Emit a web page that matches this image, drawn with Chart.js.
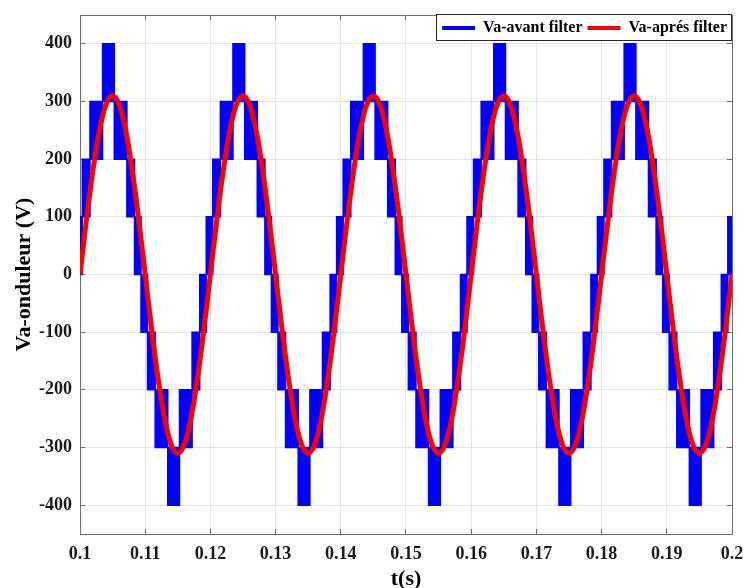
<!DOCTYPE html>
<html><head><meta charset="utf-8">
<script src="https://cdn.jsdelivr.net/npm/chart.js@4/dist/chart.umd.min.js"></script>
<style>html,body{margin:0;padding:0;background:#fff;}</style>
</head><body>
<canvas id="c" width="743" height="588"></canvas>
<script>
// ---- tick values and labels ----
const xTickValues = [0.1,0.11,0.12,0.13,0.14,0.15,0.16,0.17,0.18,0.19,0.2];
const xTickLabels = ['0.1','0.11','0.12','0.13','0.14','0.15','0.16','0.17','0.18','0.19','0.2'];
const yTickValues = [-400,-300,-200,-100,0,100,200,300,400];
const yTickLabels = ['-400','-300','-200','-100','0','100','200','300','400'];

// ---- Va-avant filter: multilevel PWM, switching band (lower level) starting at each time ----
const LEVEL_STEP = 100;
const blueTimes = [
 0.1000,0.10036,0.10153,0.10346,0.10526,0.10719,0.10836,0.10936,0.11036,0.11153,0.11346,0.11526,0.11719,0.11836,0.11936,
 0.12036,0.12153,0.12346,0.12526,0.12719,0.12836,0.12936,0.13036,0.13153,0.13346,0.13526,0.13719,0.13836,0.13936,
 0.14036,0.14153,0.14346,0.14526,0.14719,0.14836,0.14936,0.15036,0.15153,0.15346,0.15526,0.15719,0.15836,0.15936,
 0.16036,0.16153,0.16346,0.16526,0.16719,0.16836,0.16936,0.17036,0.17153,0.17346,0.17526,0.17719,0.17836,0.17936,
 0.18036,0.18153,0.18346,0.18526,0.18719,0.18836,0.18936,0.19036,0.19153,0.19346,0.19526,0.19719,0.19836,0.19936
];
const blueLow = [
 0,100,200,300,200,100,0,-100,-200,-300,-400,-300,-200,-100,0,
 100,200,300,200,100,0,-100,-200,-300,-400,-300,-200,-100,0,
 100,200,300,200,100,0,-100,-200,-300,-400,-300,-200,-100,0,
 100,200,300,200,100,0,-100,-200,-300,-400,-300,-200,-100,0,
 100,200,300,200,100,0,-100,-200,-300,-400,-300,-200,-100,0
];
const blueEnd = 0.2;

// ---- Va-apres filter: filtered sine ----
const redTimes = [
 0.100,0.101,0.102,0.103,0.104,0.105,0.106,0.107,0.108,0.109,0.110,0.111,0.112,0.113,0.114,0.115,0.116,0.117,0.118,0.119,
 0.120,0.121,0.122,0.123,0.124,0.125,0.126,0.127,0.128,0.129,0.130,0.131,0.132,0.133,0.134,0.135,0.136,0.137,0.138,0.139,
 0.140,0.141,0.142,0.143,0.144,0.145,0.146,0.147,0.148,0.149,0.150,0.151,0.152,0.153,0.154,0.155,0.156,0.157,0.158,0.159,
 0.160,0.161,0.162,0.163,0.164,0.165,0.166,0.167,0.168,0.169,0.170,0.171,0.172,0.173,0.174,0.175,0.176,0.177,0.178,0.179,
 0.180,0.181,0.182,0.183,0.184,0.185,0.186,0.187,0.188,0.189,0.190,0.191,0.192,0.193,0.194,0.195,0.196,0.197,0.198,0.199,
 0.200
];
const redValues = [
 0,96,182,251,295,310,295,251,182,96,0,-96,-182,-251,-295,-310,-295,-251,-182,-96,
 0,96,182,251,295,310,295,251,182,96,0,-96,-182,-251,-295,-310,-295,-251,-182,-96,
 0,96,182,251,295,310,295,251,182,96,0,-96,-182,-251,-295,-310,-295,-251,-182,-96,
 0,96,182,251,295,310,295,251,182,96,0,-96,-182,-251,-295,-310,-295,-251,-182,-96,
 0,96,182,251,295,310,295,251,182,96,0,-96,-182,-251,-295,-310,-295,-251,-182,-96,
 0
];
const seriesNames = ['Va-avant filter', 'Va-aprés filter'];
const seriesColors = ['#0000ff', '#ff0000'];

// build step outlines of the switching band
function stepPoints(offset) {
  const pts = [];
  for (let i = 0; i < blueTimes.length; i++) {
    const t1 = i + 1 < blueTimes.length ? blueTimes[i + 1] : blueEnd;
    pts.push({x: blueTimes[i], y: blueLow[i] + offset});
    pts.push({x: t1, y: blueLow[i] + offset});
  }
  return pts;
}
const redPoints = redTimes.map((t, i) => ({x: t, y: redValues[i]}));

const FONT = "'Liberation Serif', 'Times New Roman', serif";
const AXIS_COLOR = '#6e6e6e';
const GRID_COLOR = '#e3e3e3';
const LEGEND_H = 27;

function noAutoPadding(s) { s.paddingTop = 0; s.paddingBottom = 0; s.paddingLeft = 0; s.paddingRight = 0; }

const legendInside = {
  id: 'legendInside',
  afterInit(chart) {
    const lg = chart.legend;
    const fit = lg.fit;
    lg.fit = function () { fit.call(this); this.height = 0; };
  },
  afterLayout(chart) {
    const lg = chart.legend;
    lg.height = LEGEND_H;
    lg.bottom = lg.top + LEGEND_H;
  },
  afterDraw(chart) {
    const lg = chart.legend, ctx = chart.ctx;
    const boxes = lg.legendHitBoxes;
    const left = Math.round(Math.min(...boxes.map(b => b.left)) - 6);
    const right = Math.round(chart.chartArea.right);
    const top = Math.round(chart.chartArea.top) - 1;
    ctx.save();
    ctx.fillStyle = '#fff';
    ctx.fillRect(left, top, right - left, LEGEND_H);
    ctx.strokeStyle = '#262626';
    ctx.lineWidth = 1;
    ctx.strokeRect(left + 0.5, top + 0.5, right - left - 1, LEGEND_H - 1);
    ctx.restore();
    lg.draw();
  }
};

new Chart(document.getElementById('c'), {
  type: 'line',
  data: {
    datasets: [
      {label: seriesNames[0], data: stepPoints(LEVEL_STEP), borderColor: seriesColors[0], backgroundColor: seriesColors[0],
       borderWidth: 1.5, pointRadius: 0, fill: false, order: 1},
      {label: seriesNames[0] + ' low', data: stepPoints(0), borderColor: seriesColors[0], backgroundColor: seriesColors[0],
       borderWidth: 1.5, pointRadius: 0, fill: '-1', order: 1},
      {label: seriesNames[1], data: redPoints, borderColor: seriesColors[1], backgroundColor: seriesColors[1],
       borderWidth: 5, pointRadius: 0, fill: false, cubicInterpolationMode: 'monotone', order: 0}
    ]
  },
  options: {
    responsive: false,
    animation: false,
    devicePixelRatio: 1,
    layout: {padding: {top: 15, right: 11, bottom: 0, left: 0}},
    plugins: {
      tooltip: {enabled: false},
      legend: {
        position: 'top', align: 'end',
        labels: {
          boxWidth: 33, boxHeight: 4, padding: 5, color: '#000',
          font: {family: FONT, weight: 'bold', size: 16},
          generateLabels: () => [
            {text: seriesNames[0], fillStyle: seriesColors[0], strokeStyle: seriesColors[0], lineWidth: 0, hidden: false, datasetIndex: 0, fontColor: '#000'},
            {text: seriesNames[1], fillStyle: seriesColors[1], strokeStyle: seriesColors[1], lineWidth: 0, hidden: false, datasetIndex: 2, fontColor: '#000'}
          ]
        }
      }
    },
    scales: {
      x: {
        type: 'linear', position: 'bottom', min: 0.1, max: 0.2,
        afterBuildTicks: s => { s.ticks = xTickValues.map(v => ({value: v})); },
        afterFit: s => { s.height = 54; noAutoPadding(s); },
        ticks: {callback: (v, i) => xTickLabels[i], color: '#1a1a1a', padding: 15, maxRotation: 0,
                font: {family: FONT, weight: 'bold', size: 18}},
        grid: {color: GRID_COLOR, tickColor: AXIS_COLOR, tickLength: -5},
        border: {color: AXIS_COLOR},
        title: {display: true, text: 't(s)', color: '#000', padding: {top: 0, bottom: -2},
                font: {family: FONT, weight: 'bold', size: 22, lineHeight: 1}}
      },
      y: {
        type: 'linear', position: 'left', min: -450, max: 450,
        afterBuildTicks: s => { s.ticks = yTickValues.map(v => ({value: v})); },
        afterFit: s => { s.width = 80; noAutoPadding(s); },
        ticks: {callback: (v, i) => yTickLabels[i], color: '#1a1a1a', padding: 13,
                font: {family: FONT, weight: 'bold', size: 18}},
        grid: {color: GRID_COLOR, tickColor: AXIS_COLOR, tickLength: -5},
        border: {color: AXIS_COLOR},
        title: {display: true, text: 'Va-onduleur (V)', color: '#000', padding: {top: 13, bottom: 0},
                font: {family: FONT, weight: 'bold', size: 22, lineHeight: 1}}
      },
      x2: {
        type: 'linear', position: 'top', min: 0.1, max: 0.2,
        afterBuildTicks: s => { s.ticks = xTickValues.map(v => ({value: v})); },
        afterFit: s => { s.height = 0; noAutoPadding(s); },
        ticks: {display: false},
        grid: {drawOnChartArea: false, tickColor: AXIS_COLOR, tickLength: -5},
        border: {color: AXIS_COLOR}
      },
      y2: {
        type: 'linear', position: 'right', min: -450, max: 450,
        afterBuildTicks: s => { s.ticks = yTickValues.map(v => ({value: v})); },
        afterFit: s => { s.width = 0; noAutoPadding(s); },
        ticks: {display: false},
        grid: {drawOnChartArea: false, tickColor: AXIS_COLOR, tickLength: -5},
        border: {color: AXIS_COLOR}
      }
    }
  },
  plugins: [legendInside]
});
</script>
</body></html>
